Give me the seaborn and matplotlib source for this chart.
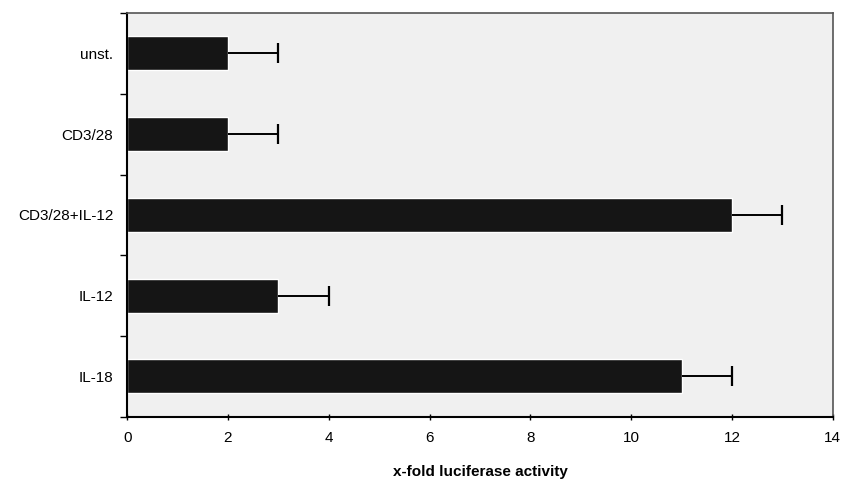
import matplotlib
matplotlib.use("Agg")
import matplotlib.pyplot as plt
import seaborn as sns
import numpy as np
import pandas as pd

categories = ["unst.", "CD3/28", "CD3/28+IL-12", "IL-12", "IL-18"]
values = [2, 2, 12, 3, 11]
errors = [1, 1, 1, 1, 1]
x_ticks = [0, 2, 4, 6, 8, 10, 12, 14]

sns.set_theme(style="white")
plt.rcParams['font.family'] = ['Liberation Sans', 'DejaVu Sans']
plt.rcParams['text.color'] = 'black'
plt.rcParams['axes.labelcolor'] = 'black'
plt.rcParams['xtick.color'] = 'black'
plt.rcParams['ytick.color'] = 'black'

df = pd.DataFrame({"cat": categories, "val": values})

fig = plt.figure(figsize=(8.48, 4.83), dpi=100)
ax = fig.add_axes([0.150, 0.137, 0.832, 0.836])
ax.set_facecolor("#f0f0f0")

sns.barplot(data=df, x="val", y="cat", order=categories, color="#151515",
            width=0.42, saturation=1, errorbar=None, ax=ax, zorder=2)
ypos = np.arange(len(categories))
vals = np.array(values, dtype=float)
errs = np.array(errors, dtype=float)
ax.hlines(ypos, vals, vals + errs, color="black", linewidth=1.4, zorder=3)
ax.plot(vals + errs, ypos, linestyle="none", marker="|", markersize=14,
        markeredgewidth=1.6, color="black", zorder=3)

ax.set_xlim(0, 14)
ax.set_ylim(len(categories) - 0.5, -0.5)
ax.set_xticks(x_ticks)
ax.set_xticklabels([str(t) for t in x_ticks], fontsize=11, color="black")
ax.set_yticks(ypos)
ax.set_yticklabels(categories, fontsize=11, color="black")
ax.set_yticks(np.arange(-0.5, len(categories), 1.0), minor=True)
ax.tick_params(axis="y", which="major", length=0, pad=10)
ax.tick_params(axis="y", which="minor", left=True, length=5, width=1, direction="out", color="black")
ax.tick_params(axis="x", which="major", bottom=True, length=5, width=1, direction="inout", color="black", pad=8)
ax.set_xlabel("x-fold luciferase activity", fontsize=11, fontweight="bold", labelpad=14, color="black")
ax.set_ylabel("")

for side in ["left", "bottom"]:
    ax.spines[side].set_color("black")
    ax.spines[side].set_linewidth(1.5)
for side in ["top", "right"]:
    ax.spines[side].set_color("#555555")
    ax.spines[side].set_linewidth(1.2)

fig.savefig("out.png", dpi=100)
